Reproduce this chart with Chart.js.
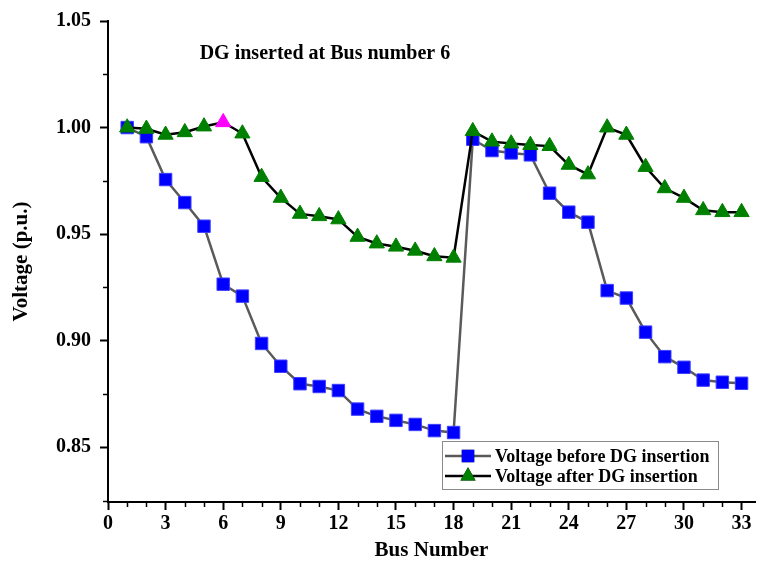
<!DOCTYPE html>
<html>
<head>
<meta charset="utf-8">
<script src="https://cdn.jsdelivr.net/npm/chart.js@4.4.1/dist/chart.umd.min.js"></script>
<style>
  html, body { margin: 0; padding: 0; background: #fff; }
  #wrap { width: 758px; height: 563px; }
</style>
</head>
<body>
<div id="wrap"><canvas id="voltageChart"></canvas></div>
<script>
// bus numbers of the 33 bus system
var busNumber = [1, 2, 3, 4, 5, 6, 7, 8, 9, 10, 11, 12, 13, 14, 15, 16, 17,
  18, 19, 20, 21, 22, 23, 24, 25, 26, 27, 28, 29, 30, 31, 32, 33];

var voltageBefore = [1.000, 0.9957, 0.9756, 0.9648, 0.9537, 0.9265, 0.9209, 0.8987,
  0.8880, 0.8798, 0.8785, 0.8766, 0.8679, 0.8645, 0.8626, 0.8607, 0.8578, 0.8569,
  0.9945, 0.9892, 0.9881, 0.9872, 0.9692, 0.9603, 0.9556, 0.9235, 0.9200, 0.9040,
  0.8925, 0.8875, 0.8815, 0.8805, 0.8800];

var voltageAfter = [1.000, 0.9994, 0.9966, 0.9978, 1.0005, 1.0025, 0.9972, 0.9768,
  0.9670, 0.9595, 0.9584, 0.9569, 0.9487, 0.9456, 0.9441, 0.9422, 0.9396, 0.9389,
  0.9983, 0.9934, 0.9925, 0.9918, 0.9913, 0.9825, 0.9780, 1.0000, 0.9966, 0.9815,
  0.9715, 0.9670, 0.9612, 0.9603, 0.9603];

var dgBus = 6;
var xTicks = [0, 3, 6, 9, 12, 15, 18, 21, 24, 27, 30, 33];
var yTicks = [0.85, 0.90, 0.95, 1.00, 1.05];

var seriesNames = ['Voltage before DG insertion', 'Voltage after DG insertion'];
var titleText = 'DG inserted at Bus number 6';

var serif = '"Liberation Serif", "Times New Roman", serif';

function pts(ys) {
  return busNumber.map(function (b, i) { return { x: b, y: ys[i] }; });
}

var afterColors = busNumber.map(function (b) { return b === dgBus ? '#ff00ff' : '#008000'; });

function isOn(v, list) {
  return list.some(function (t) { return Math.abs(t - v) < 1e-6; });
}

// minor ticks, legend box and the note inside the plot
var extras = {
  id: 'extras',
  afterDraw: function (chart) {
    var ctx = chart.ctx;
    var xs = chart.scales.x, ys = chart.scales.y;
    var area = chart.chartArea;
    ctx.save();
    ctx.strokeStyle = '#000';
    ctx.lineWidth = 1.5;
    for (var i = 0; i <= 33; i++) {
      if (isOn(i, xTicks)) continue;
      var px = Math.round(xs.getPixelForValue(i)) + 0.5;
      ctx.beginPath();
      ctx.moveTo(px, area.bottom);
      ctx.lineTo(px, area.bottom + 5);
      ctx.stroke();
    }
    for (var v = 0.825; v < 1.06; v += 0.05) {
      var py = Math.round(ys.getPixelForValue(v)) + 0.5;
      ctx.beginPath();
      ctx.moveTo(area.left, py);
      ctx.lineTo(area.left - 5, py);
      ctx.stroke();
    }

    // note
    ctx.fillStyle = '#000';
    ctx.font = 'bold 20px ' + serif;
    ctx.textAlign = 'center';
    ctx.textBaseline = 'middle';
    ctx.fillText(titleText, xs.getPixelForValue(11.3), ys.getPixelForValue(1.0345));

    // legend
    var bx = 442, by = 441, bw = 276, bh = 48;
    ctx.strokeStyle = '#8a8a8a';
    ctx.lineWidth = 1;
    ctx.strokeRect(bx + 0.5, by + 0.5, bw, bh);
    var rows = [by + 15, by + 35];
    chart.data.datasets.forEach(function (ds, k) {
      var ry = rows[k];
      ctx.strokeStyle = ds.borderColor;
      ctx.lineWidth = 2.5;
      ctx.beginPath();
      ctx.moveTo(bx + 3, ry);
      ctx.lineTo(bx + 49, ry);
      ctx.stroke();
      Chart.helpers.drawPoint(ctx, {
        pointStyle: ds.pointStyle,
        radius: ds.pointRadius,
        rotation: 0,
        borderWidth: 0
      }, bx + 26, ry);
      ctx.fillStyle = k === 0 ? '#0000ff' : '#008000';
      ctx.fill();
      ctx.fillStyle = '#000';
      ctx.font = 'bold 18px ' + serif;
      ctx.textAlign = 'left';
      ctx.textBaseline = 'middle';
      ctx.fillText(seriesNames[k], bx + 53, ry + 1);
    });
    ctx.restore();
  }
};

var chartEl = document.getElementById('voltageChart');

new Chart(chartEl, {
  type: 'line',
  data: {
    datasets: [{
      label: seriesNames[0],
      data: pts(voltageBefore),
      borderColor: '#5a5a5a',
      borderWidth: 2.5,
      pointStyle: 'rect',
      pointRadius: 8.8,
      pointBackgroundColor: '#0000ff',
      pointBorderColor: '#3d3dff',
      pointBorderWidth: 1,
      tension: 0,
      order: 1
    }, {
      label: seriesNames[1],
      data: pts(voltageAfter),
      borderColor: '#000000',
      borderWidth: 2.5,
      pointStyle: 'triangle',
      pointRadius: 8.8,
      pointBackgroundColor: afterColors,
      pointBorderColor: afterColors,
      pointBorderWidth: 1,
      tension: 0,
      order: 0
    }]
  },
  options: {
    responsive: true,
    maintainAspectRatio: false,
    animation: false,
    layout: { autoPadding: false, padding: { left: 0, right: 3, top: 18, bottom: 0 } },
    plugins: {
      legend: { display: false },
      tooltip: { enabled: false },
      title: { display: false }
    },
    scales: {
      x: {
        type: 'linear',
        min: 0,
        max: 33.7,
        afterBuildTicks: function (scale) {
          scale.ticks = xTicks.map(function (v) { return { value: v }; });
        },
        afterFit: function (scale) {
          scale.height = 61;
          scale.paddingRight = 0;
          scale.paddingLeft = 0;
        },
        ticks: {
          autoSkip: false,
          maxRotation: 0,
          padding: 2,
          color: '#000',
          font: { family: serif, size: 20, weight: 'bold' },
          callback: function (v) { return String(v); }
        },
        grid: {
          drawOnChartArea: false,
          drawTicks: true,
          tickLength: 8,
          tickWidth: 2,
          tickColor: '#000'
        },
        border: { display: true, color: '#000', width: 2 },
        title: {
          display: true,
          text: 'Bus Number',
          color: '#000',
          font: { family: serif, size: 21, weight: 'bold' },
          padding: { top: 0, bottom: 0 }
        }
      },
      y: {
        type: 'linear',
        min: 0.8243,
        max: 1.05,
        afterBuildTicks: function (scale) {
          scale.ticks = yTicks.map(function (v) { return { value: v }; });
        },
        afterFit: function (scale) { scale.width = 108; },
        ticks: {
          autoSkip: false,
          padding: 9,
          color: '#000',
          font: { family: serif, size: 20, weight: 'bold' },
          callback: function (v) { return v.toFixed(2); }
        },
        grid: {
          drawOnChartArea: false,
          drawTicks: true,
          tickLength: 8,
          tickWidth: 2,
          tickColor: '#000'
        },
        border: { display: true, color: '#000', width: 2 },
        title: {
          display: true,
          text: 'Voltage (p.u.)',
          color: '#000',
          font: { family: serif, size: 21, weight: 'bold' },
          padding: { top: 9, bottom: 0 }
        }
      }
    }
  },
  plugins: [extras]
});
</script>
</body>
</html>
